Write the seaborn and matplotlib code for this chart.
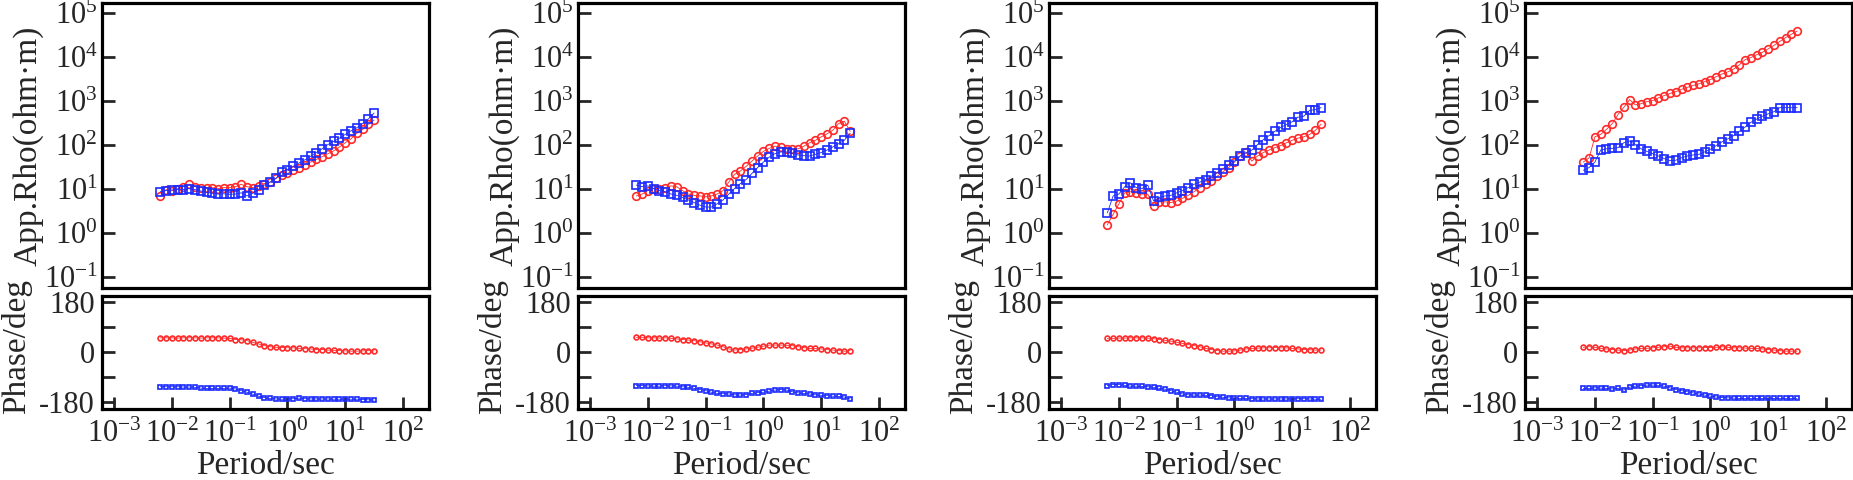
import matplotlib
matplotlib.use('Agg')
import matplotlib.pyplot as plt
import matplotlib.ticker as mticker
import seaborn as sns

# Perioden (s), gemeinsames Raster fuer alle vier Stationen
PERIOD = [0.00631, 0.00794, 0.01, 0.0126, 0.0158, 0.0200, 0.0251, 0.0316,
          0.0398, 0.0501, 0.0631, 0.0794, 0.1, 0.126, 0.158, 0.200, 0.251,
          0.316, 0.398, 0.501, 0.631, 0.794, 1.0, 1.26, 1.58, 2.0, 2.51,
          3.16, 3.98, 5.01, 6.31, 7.94, 10.0, 12.6, 15.8, 20.0, 25.1, 31.6]

# Station 1
RHO_XY_1 = [6.8, 9.5, 8.9, 10, 11, 12.5, 11, 10.5, 10.5, 10.5,
            10, 10.5, 10.5, 11, 12.5, 11, 10.5, 11.5, 13, 14,
            17, 20, 22, 26, 30, 35, 40, 46, 53, 62,
            72, 88, 110, 135, 180, 220, 290, 360]
RHO_YX_1 = [8.5, 9.0, 9.3, 9.5, 9.5, 10.0, 9.5, 8.8, 8.2, 7.8,
            7.5, 7.6, 7.4, 7.5, 8.0, 6.8, 7.8, 9.5, 12, 14,
            17, 24, 27, 32, 38, 45, 54, 66, 80, 100,
            118, 140, 170, 205, 240, 300, 380, 520]
PHI_XY_1 = [50, 50, 50, 49, 50, 50, 50, 49, 50, 50,
            50, 49, 48, 44, 43, 40, 34, 28, 22, 18,
            16, 15, 14, 14, 12, 11, 10, 8, 8, 6,
            5, 4, 3, 2, 2, 3, 4, 3]
PHI_YX_1 = [-126, -126, -126, -126, -127, -127, -128, -131, -132, -132,
            -132, -132, -131, -134, -140, -146, -153, -160, -165, -168,
            -170, -171, -170, -169, -167, -169, -170, -170, -170, -170,
            -171, -171, -171, -171, -171, -172, -173, -174]

# Station 2
RHO_XY_2 = [6.8, 7.5, 9, 10, 10, 10.5, 11.5, 11, 9, 7.5,
            7, 6.8, 6.5, 6.8, 7.5, 9, 14, 21, 25, 32,
            42, 55, 70, 82, 92, 88, 80, 78, 80, 92,
            110, 125, 150, 175, 210, 300, 340, 200]
RHO_YX_2 = [12, 11, 11.5, 10, 9, 8.5, 7.5, 7, 6.3, 5.5,
            4.8, 4.2, 3.8, 3.8, 4.5, 5.5, 7.5, 10, 13, 16,
            22, 30, 40, 52, 62, 68, 68, 64, 58, 56,
            55, 60, 66, 75, 88, 105, 125, 180]
PHI_XY_2 = [52, 52, 50, 50, 49, 50, 48, 46, 44, 42,
            40, 36, 32, 28, 24, 18, 10, 6, 8, 10,
            13, 16, 20, 24, 24, 24, 23, 22, 18, 15,
            12, 12, 10, 8, 6, 4, 2, 4]
PHI_YX_2 = [-122, -122, -123, -124, -124, -122, -123, -124, -126, -128,
            -132, -136, -140, -146, -150, -151, -152, -155, -156, -154,
            -150, -147, -146, -142, -138, -136, -138, -144, -148, -150,
            -152, -155, -157, -158, -160, -161, -163, -170]

# Station 3
RHO_XY_3 = [1.5, 2.6, 4.5, 8, 8.5, 8, 7.5, 7.5, 4.0, 5.0,
            5.0, 4.8, 5.2, 6.0, 7.0, 8.5, 10.5, 12.5, 15, 19,
            24, 30, 40, 55, 68, 42, 55, 66, 75, 85,
            95, 110, 125, 140, 150, 170, 210, 290]
RHO_YX_3 = [2.8, 6.8, 7.5, 11, 13.5, 10.5, 10, 12, 5.2, 6.3,
            6.8, 7, 8, 9, 10.5, 12.5, 14, 16, 19, 23,
            28, 34, 42, 55, 64, 75, 100, 130, 160, 200,
            245, 285, 330, 420, 440, 600, 620, 690]
PHI_XY_3 = [48, 48, 49, 49, 50, 50, 50, 49, 47, 44,
            41, 38, 34, 30, 26, 22, 18, 12, 8, 4,
            2, 2, 3, 6, 10, 12, 13, 14, 14, 15,
            14, 14, 12, 10, 8, 7, 6, 6]
PHI_YX_3 = [-122, -118, -118, -121, -124, -124, -125, -126, -128, -132,
            -135, -140, -146, -152, -155, -156, -156, -157, -158, -162,
            -164, -166, -167, -168, -168, -169, -170, -170, -170, -170,
            -170, -170, -170, -169, -169, -170, -171, -171]

# Station 4
RHO_XY_4 = [40, 50, 150, 170, 220, 300, 480, 700, 1050, 800,
            850, 950, 1000, 1150, 1300, 1450, 1600, 1800, 2000, 2200,
            2400, 2700, 3000, 3500, 4000, 4500, 5200, 6500, 8500, 9500,
            11000, 12500, 15000, 18000, 22000, 27000, 32000, 38000]
RHO_YX_4 = [26, 30, 40, 75, 80, 82, 85, 110, 120, 100,
            80, 70, 62, 55, 48, 43, 44, 50, 55, 58,
            60, 68, 78, 95, 115, 135, 160, 200, 250, 320,
            380, 440, 500, 560, 690, 690, 690, 690]
PHI_XY_4 = [16, 18, 16, 12, 10, 8, 6, 4, 6, 10,
            12, 12, 14, 16, 18, 20, 16, 14, 14, 14,
            14, 15, 15, 16, 18, 16, 14, 14, 13, 12,
            12, 10, 8, 6, 4, 2, 2, 2]
PHI_YX_4 = [-132, -132, -130, -131, -132, -134, -132, -138, -128, -124,
            -122, -120, -120, -121, -124, -130, -136, -140, -144, -148,
            -152, -156, -160, -163, -165, -166, -167, -168, -168, -168,
            -168, -168, -168, -168, -168, -168, -168, -168]

STATIONS = [
    (RHO_XY_1, RHO_YX_1, PHI_XY_1, PHI_YX_1),
    (RHO_XY_2, RHO_YX_2, PHI_XY_2, PHI_YX_2),
    (RHO_XY_3, RHO_YX_3, PHI_XY_3, PHI_YX_3),
    (RHO_XY_4, RHO_YX_4, PHI_XY_4, PHI_YX_4),
]

PHASE_TICKS = [-180, -90, 0, 90, 180]
PHASE_LABELS = ['-180', '', '0', '', '180']

RED = '#ff2a2a'
BLUE = '#1a2aff'
FS_TICK = 22
FS_LABEL = 24


def style_axes(ax):
    for sp in ax.spines.values():
        sp.set_linewidth(2.3)
        sp.set_color('black')
    ax.tick_params(which='major', direction='in', length=9, width=2,
                   labelsize=FS_TICK, pad=3)
    ax.tick_params(which='minor', left=False, bottom=False,
                   right=False, top=False)


def draw_series(ax, y, color, marker, ms):
    sns.lineplot(x=PERIOD, y=y, ax=ax, color=color, marker=marker,
                 markersize=ms, markerfacecolor='none',
                 markeredgecolor=color, markeredgewidth=1.2,
                 linewidth=0.6, estimator=None, sort=False)


def main():
    sns.set_style('ticks')
    plt.rcParams['font.family'] = ['Liberation Serif', 'DejaVu Serif']
    plt.rcParams['mathtext.fontset'] = 'custom'
    plt.rcParams['mathtext.rm'] = 'Liberation Serif'
    plt.rcParams['mathtext.it'] = 'Liberation Serif:italic'

    fig = plt.figure(figsize=(18.53, 4.80), dpi=100)
    lefts = [102, 578, 1049, 1525]
    width = 327 / 1853

    for left, (rxy, ryx, pxy, pyx) in zip(lefts, STATIONS):
        l = left / 1853
        ax_r = fig.add_axes([l, 0.400, width, 0.594])
        ax_p = fig.add_axes([l, 0.148, width, 0.235])

        # Scheinbarer Widerstand
        ax_r.set_xscale('log')
        ax_r.set_yscale('log')
        draw_series(ax_r, rxy, RED, 'o', 5.5)
        draw_series(ax_r, ryx, BLUE, 's', 5.5)
        ax_r.set_xlim(10 ** -3.21, 10 ** 2.45)
        ax_r.set_ylim(10 ** -1.26, 10 ** 5.22)
        ax_r.yaxis.set_major_locator(mticker.LogLocator(base=10, numticks=20))
        ax_r.yaxis.set_minor_locator(mticker.NullLocator())
        ax_r.xaxis.set_minor_locator(mticker.NullLocator())
        style_axes(ax_r)
        ax_r.tick_params(axis='x', bottom=False, labelbottom=False)
        ax_r.set_xlabel('')
        ax_r.set_ylabel('App.Rho(ohm·m)', fontsize=FS_LABEL)
        ax_r.yaxis.set_label_coords(-0.180, 0.5)

        # Phase
        ax_p.set_xscale('log')
        draw_series(ax_p, pxy, RED, 'o', 3.5)
        draw_series(ax_p, pyx, BLUE, 's', 3.5)
        ax_p.set_xlim(10 ** -3.21, 10 ** 2.45)
        ax_p.set_ylim(-206, 200)
        ax_p.set_yticks(PHASE_TICKS)
        ax_p.set_yticklabels(PHASE_LABELS)
        ax_p.xaxis.set_major_locator(mticker.LogLocator(base=10, numticks=20))
        ax_p.xaxis.set_minor_locator(mticker.NullLocator())
        style_axes(ax_p)
        ax_p.tick_params(axis='x', pad=8)
        ax_p.tick_params(axis='y', pad=5)
        ax_p.set_xlabel('Period/sec', fontsize=FS_LABEL)
        ax_p.xaxis.set_label_coords(0.5, -0.37)
        ax_p.set_ylabel('Phase/deg', fontsize=FS_LABEL)
        ax_p.yaxis.set_label_coords(-0.214, 0.55)

    fig.savefig('out.png', dpi=100)


if __name__ == '__main__':
    main()
